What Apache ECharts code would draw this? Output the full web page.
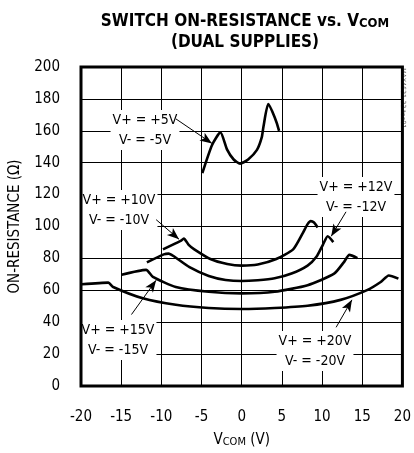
<!DOCTYPE html>
<html>
<head>
<meta charset="utf-8">
<script src="https://cdn.jsdelivr.net/npm/echarts@6/dist/echarts.min.js"></script>
<style>
html,body{margin:0;padding:0;background:#fff;}
#main{width:414px;height:453px;}
</style>
</head>
<body>
<div id="main"></div>
<script>
// axis ticks
var xTicks = [-20, -15, -10, -5, 0, 5, 10, 15, 20];
var yTicks = [0, 20, 40, 60, 80, 100, 120, 140, 160, 180, 200];

// on-resistance curves, [Vcom, ohms]
var r5 = [[-4.9,133.5],[-3.7,151],[-2.65,159],[-1.8,148],[-1.0,142],[-0.2,139.4],[0.8,142],[1.9,148],[2.5,156],[2.7,162.4],[3.3,176.7],[4.1,168.5],[4.65,160]];
var r10 = [[-9.8,85.7],[-7.6,91],[-7.2,92.4],[-6.6,88.5],[-5.9,85.7],[-3.9,79.6],[-1.8,76.5],[0,75.5],[2,76.2],[4.3,79.6],[6.4,85.7],[7.6,95.9],[8.2,101.5],[8.6,103.4],[9.0,102.5],[9.45,99.4]];
var r12 = [[-11.8,77.5],[-9.7,82.5],[-9.1,83],[-8.5,81.5],[-6.5,74.5],[-4.1,69],[-2,66.5],[0,65.8],[2,66.3],[4.1,67.5],[6.2,70.5],[8.2,75.5],[9.3,81],[10.1,88.5],[10.7,93.9],[11.4,90.2]];
var r15 = [[-14.95,69.8],[-11.9,72.8],[-11.05,68.4],[-8.2,62.1],[-4.1,59.1],[0,58.1],[4.1,59.1],[8.2,63.2],[11.5,70.4],[12.7,77.5],[13.4,82.2],[14.4,80.2]];
var r20 = [[-19.9,63.8],[-16.6,64.8],[-16.0,62.1],[-12.3,55],[-8.2,50.9],[-4.1,48.9],[0,48.3],[4.1,48.9],[8.2,50.3],[12.3,54],[15.6,60.1],[17.3,65.2],[18.3,69.3],[19.5,67.3]];

// arrows from label to curve, [from, to]
var arrows = [
  [[-8.2,167.5],[-3.7,152.1]],
  [[-10.65,104.3],[-7.8,92.0]],
  [[12.98,109.2],[11.14,93.9]],
  [[-13.72,44.8],[-10.65,66.3]],
  [[11.75,36.8],[13.72,54.0]]
];

var FONT = '"DejaVu Sans Condensed","Liberation Sans Narrow","Roboto",sans-serif';

var chart = echarts.init(document.getElementById('main'));

function curve(name, data){
  return {
    name: name,
    type: 'line',
    data: data,
    symbol: 'none',
    smooth: 0.2,
    lineStyle: {color: '#000', width: 2.6},
    animation: false,
    z: 5
  };
}

var series = [
  curve('5V', r5),
  curve('10V', r10),
  curve('12V', r12),
  curve('15V', r15),
  curve('20V', r20)
];
// arrows live on an extra empty series
series.push({
  type: 'line',
  data: [],
  animation: false,
  markLine: {
    silent: true,
    animation: false,
    symbol: ['none', 'arrow'],
    symbolSize: [7, 12],
    label: {show: false},
    lineStyle: {color: '#000', width: 1, type: 'solid'},
    data: arrows.map(function(a){
      return [{coord: a[0]}, {coord: a[1]}];
    })
  }
});

function lbl(x, y, top, bottom){
  return {
    type: 'text',
    x: x, y: y,
    z: 2,
    style: {
      text: top + '\n' + bottom,
      font: '14px ' + FONT,
      fill: '#000',
      align: 'center',
      verticalAlign: 'middle',
      lineHeight: 20,
      backgroundColor: '#fff',
      padding: [0, 2]
    }
  };
}

var option = {
  backgroundColor: '#fff',
  animation: false,
  title: {
    text: '{a|SWITCH ON-RESISTANCE vs. V}{s|COM}\n{a|(DUAL SUPPLIES)}',
    left: 240,
    top: 4,
    textAlign: 'center',
    textStyle: {
      rich: {
        a: {fontSize: 17, fontWeight: 'bold', fontFamily: FONT, color: '#000', lineHeight: 21, verticalAlign: 'bottom'},
        s: {fontSize: 13, fontWeight: 'bold', fontFamily: FONT, color: '#000', lineHeight: 17, verticalAlign: 'bottom'}
      }
    }
  },
  grid: {
    left: 79, right: 10, top: 67, bottom: 60,
    show: true,
    borderColor: '#000',
    borderWidth: 3,
    z: 6
  },
  xAxis: {
    type: 'value',
    min: xTicks[0], max: xTicks[xTicks.length-1], interval: 5,
    axisLine: {show: false},
    axisTick: {show: false},
    axisLabel: {margin: 24, color: '#000', fontSize: 15, fontFamily: FONT},
    splitLine: {lineStyle: {color: '#000', width: 1}},
    name: '{v|V}{s|COM}{v| (V)}',
    nameLocation: 'middle',
    nameGap: 42,
    nameTextStyle: {
      rich: {
        v: {fontSize: 15, fontFamily: FONT, color: '#000', lineHeight: 20, verticalAlign: 'bottom'},
        s: {fontSize: 11, fontFamily: FONT, color: '#000', lineHeight: 14, verticalAlign: 'bottom'}
      }
    }
  },
  yAxis: {
    type: 'value',
    min: yTicks[0], max: yTicks[yTicks.length-1], interval: 20,
    axisLine: {show: false},
    axisTick: {show: false},
    axisLabel: {margin: 21, color: '#000', fontSize: 15, fontFamily: FONT},
    splitLine: {lineStyle: {color: '#000', width: 1}},
    name: 'ON-RESISTANCE (Ω)',
    nameLocation: 'middle',
    nameGap: 58,
    nameTextStyle: {fontSize: 15, fontFamily: FONT, color: '#000'}
  },
  graphic: [
    {
      type: 'text', x: 406, y: 68, rotation: -Math.PI/2,
      style: {text: 'MAX4631-33 toc01', font: '7px ' + FONT, fill: '#666'}
    },
    lbl(145, 130, 'V+ = +5V', 'V- = -5V'),
    lbl(119, 210, 'V+ = +10V', 'V- = -10V'),
    lbl(356, 197, 'V+ = +12V', 'V- = -12V'),
    lbl(118, 340, 'V+ = +15V', 'V- = -15V'),
    lbl(315, 351, 'V+ = +20V', 'V- = -20V')
  ],
  series: series
};

chart.setOption(option);
</script>
</body>
</html>
